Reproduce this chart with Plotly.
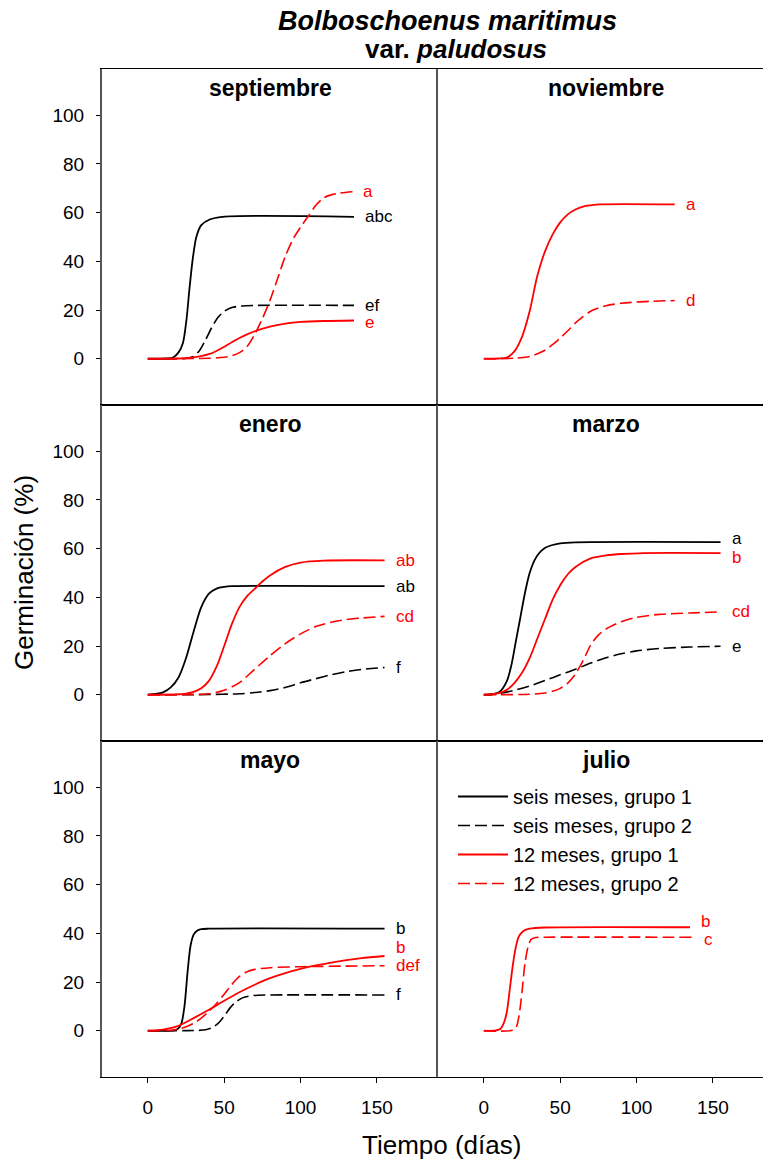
import plotly.graph_objects as go
from plotly.subplots import make_subplots

# ---------------- data ----------------
series_names = ["seis meses, grupo 1", "seis meses, grupo 2",
                "12 meses, grupo 1", "12 meses, grupo 2"]
panel_titles = ["septiembre", "noviembre", "enero", "marzo", "mayo", "julio"]
x_ticks = [0, 50, 100, 150]
y_ticks = [0, 20, 40, 60, 80, 100]

# septiembre
sep_s1_t = [0, 12, 16.5, 20, 23, 25.3, 27.4, 29.6, 31.8, 35, 40.5, 49, 135]
sep_s1_y = [0, 0.1, 0.5, 2.5, 6.5, 16, 29.6, 41.9, 50.1, 54.9, 57.2, 58.3, 58.3]
sep_s2_t = [0, 25, 30, 34, 38, 42, 46, 50, 55, 60, 70, 135]
sep_s2_y = [0, 0.2, 1, 3.5, 8, 13, 17, 19.5, 21, 21.6, 21.9, 21.9]
sep_d1_t = [0, 20, 30, 40, 45, 50, 55, 60, 65, 70, 80, 90, 100, 115, 135]
sep_d1_y = [0, 0.1, 0.6, 1.9, 3.2, 4.9, 6.8, 8.5, 10, 11.3, 13.2, 14.4, 15.1, 15.5, 15.7]
sep_d2_t = [0, 40, 50, 55, 60, 65, 70, 75, 80, 85, 90, 95, 100, 105, 110, 115, 120, 125, 134]
sep_d2_y = [0, 0.2, 0.6, 1.2, 2.5, 5, 10, 16.5, 24, 33, 42, 49, 54, 58.5, 63, 66, 67.3, 68, 68.6]
sep_letters = ["abc", "ef", "e", "a"]

# noviembre (only 12 meses)
nov_d1_t = [0, 10, 15, 20, 25, 30, 35, 40, 45, 50, 55, 60, 65, 70, 76, 125]
nov_d1_y = [0, 0.1, 0.5, 3, 9, 19.5, 34, 44, 51, 56, 59.3, 61.3, 62.5, 63, 63.4, 63.4]
nov_d2_t = [0, 20, 30, 40, 45, 50, 55, 60, 65, 70, 75, 80, 90, 100, 110, 125]
nov_d2_y = [0, 0.2, 0.9, 3.5, 5.8, 8.5, 11.5, 14.7, 17.3, 19.5, 20.8, 21.8, 22.8, 23.3, 23.6, 23.9]
nov_letters = [None, None, "a", "d"]

# enero
ene_s1_t = [0, 5, 10, 15, 20, 25, 30, 35, 40, 45, 50, 55, 155]
ene_s1_y = [0, 0.3, 1, 3, 7, 15, 26, 36, 41.5, 43.6, 44.3, 44.6, 44.6]
ene_s2_t = [0, 40, 60, 70, 80, 90, 100, 110, 120, 130, 140, 155]
ene_s2_y = [0, 0.1, 0.4, 0.9, 1.7, 3, 4.9, 6.6, 8.2, 9.5, 10.4, 11.2]
ene_d1_t = [0, 20, 25, 30, 35, 40, 45, 50, 55, 60, 65, 70, 75, 80, 90, 100, 115, 155]
ene_d1_y = [0, 0.2, 0.5, 1.2, 2.7, 5.7, 11.5, 20, 29, 36, 40.5, 43.5, 46.5, 49, 52.5, 54.3, 55.1, 55.2]
ene_d2_t = [0, 30, 40, 50, 60, 70, 80, 90, 100, 110, 120, 130, 140, 155]
ene_d2_y = [0, 0.1, 0.4, 1.8, 5, 10.5, 16, 21, 25, 28, 29.8, 30.9, 31.5, 32.2]
ene_letters = ["ab", "f", "ab", "cd"]

# marzo
mar_s1_t = [0, 5, 10, 15, 18, 21, 24, 27, 30, 33, 36, 40, 45, 50, 60, 155]
mar_s1_y = [0, 0.1, 1, 5.5, 12, 22, 32, 42, 50, 55, 58, 60.3, 61.5, 62.2, 62.6, 62.7]
mar_s2_t = [0, 10, 20, 30, 40, 50, 60, 70, 80, 90, 100, 115, 135, 155]
mar_s2_y = [0, 0.5, 1.8, 3.6, 5.8, 8.2, 10.5, 13, 15.2, 16.8, 18, 19, 19.6, 19.9]
mar_d1_t = [0, 5, 10, 15, 20, 25, 30, 35, 40, 45, 50, 55, 60, 70, 80, 90, 105, 155]
mar_d1_y = [0, 0.2, 0.7, 2, 4.8, 9, 15, 23, 31, 39, 45, 49.5, 52.5, 56, 57.2, 57.8, 58.2, 58.2]
mar_d2_t = [0, 30, 40, 45, 50, 55, 60, 65, 70, 75, 80, 90, 100, 115, 135, 155]
mar_d2_y = [0, 0.2, 0.7, 1.4, 2.6, 4.8, 8.5, 14, 20.5, 24.5, 27, 30, 31.8, 33, 33.6, 34]
mar_letters = ["a", "e", "b", "cd"]

# mayo
may_s1_t = [0, 18, 20, 22, 24, 26, 28, 30, 32, 35, 40, 155]
may_s1_y = [0, 0.2, 1, 3, 10, 24, 35, 39.5, 41, 41.7, 41.9, 41.9]
may_s2_t = [0, 30, 38, 42, 46, 50, 54, 58, 62, 66, 72, 80, 155]
may_s2_y = [0, 0.1, 0.4, 1.2, 3, 6, 9.5, 12, 13.5, 14.2, 14.6, 14.7, 14.7]
may_d1_t = [0, 10, 20, 30, 40, 50, 60, 70, 80, 90, 100, 110, 120, 130, 140, 155]
may_d1_y = [0, 0.5, 2, 5.2, 8.6, 12.3, 15.8, 18.9, 21.6, 23.7, 25.4, 26.8, 28, 29, 29.8, 30.7]
may_d2_t = [0, 15, 20, 25, 30, 35, 40, 45, 50, 55, 60, 65, 70, 80, 100, 155]
may_d2_y = [0, 0.2, 0.7, 1.6, 3, 5.2, 8, 11.2, 15, 19, 22.3, 24.2, 25.2, 25.9, 26.3, 26.7]
may_letters = ["b", "f", "b", "def"]

# julio (only 12 meses)
jul_d1_t = [0, 8, 11, 13, 15, 17, 19, 21, 23, 26, 30, 40, 135]
jul_d1_y = [0, 0.1, 0.8, 3, 7.5, 17, 27, 34.5, 38.8, 41, 41.9, 42.4, 42.5]
jul_d2_t = [0, 18, 21, 23, 25, 27, 29, 31, 34, 40, 137]
jul_d2_y = [0, 0.1, 1.2, 6, 16, 28, 34.5, 37.5, 38.3, 38.4, 38.4]
jul_letters = [None, None, "b", "c"]

curves = [
    [(sep_s1_t, sep_s1_y), (sep_s2_t, sep_s2_y), (sep_d1_t, sep_d1_y), (sep_d2_t, sep_d2_y)],
    [None, None, (nov_d1_t, nov_d1_y), (nov_d2_t, nov_d2_y)],
    [(ene_s1_t, ene_s1_y), (ene_s2_t, ene_s2_y), (ene_d1_t, ene_d1_y), (ene_d2_t, ene_d2_y)],
    [(mar_s1_t, mar_s1_y), (mar_s2_t, mar_s2_y), (mar_d1_t, mar_d1_y), (mar_d2_t, mar_d2_y)],
    [(may_s1_t, may_s1_y), (may_s2_t, may_s2_y), (may_d1_t, may_d1_y), (may_d2_t, may_d2_y)],
    [None, None, (jul_d1_t, jul_d1_y), (jul_d2_t, jul_d2_y)],
]
letters = [sep_letters, nov_letters, ene_letters, mar_letters, may_letters, jul_letters]

# ---------------- styling ----------------
FONT = "Liberation Sans, Arial, Helvetica, sans-serif"
colors = ["black", "black", "red", "red"]
dashes = ["solid", "12px,5px", "solid", "12px,5px"]
widths = [1.8, 1.6, 1.8, 1.6]
label_nudge = {(0, 2): -2, (3, 0): 4, (3, 2): -4, (4, 2): 8, (5, 2): 6, (5, 3): -2}

W, H = 763, 1160
ML, MT, MB = 102, 69, 83
panel_px = 336
plot_w = W - ML
x_range_left = [-30, 190]
px_per_unit = panel_px / (x_range_left[1] - x_range_left[0])
x_range_right = [-30, -30 + (plot_w - panel_px) / px_per_unit]
y_range = [-19, 119]

fig = make_subplots(rows=3, cols=2, horizontal_spacing=0, vertical_spacing=0,
                    column_widths=[panel_px, plot_w - panel_px])

shown = set()
annotations = []
for i, title in enumerate(panel_titles):
    row, col = i // 2 + 1, i % 2 + 1
    n = i + 1
    xr = f"x{n}" if n > 1 else "x"
    yr = f"y{n}" if n > 1 else "y"
    for k in range(4):
        c = curves[i][k]
        if c is None:
            continue
        t, v = c
        fig.add_trace(go.Scatter(
            x=t, y=v, mode="lines", name=series_names[k],
            legendgroup=series_names[k], legendrank=k + 1,
            showlegend=k not in shown,
            line=dict(color=colors[k], dash=dashes[k], width=widths[k],
                      shape="spline", smoothing=0.8),
            hoverinfo="skip"), row=row, col=col)
        shown.add(k)
        lab = letters[i][k]
        if lab:
            annotations.append(dict(
                x=t[-1], y=v[-1], xref=xr, yref=yr, text=lab, showarrow=False,
                xanchor="left", yanchor="middle", xshift=9,
                yshift=label_nudge.get((i, k), 0),
                font=dict(family=FONT, size=17, color=colors[k])))
    annotations.append(dict(
        x=80, y=111, xref=xr, yref=yr, text=f"<b>{title}</b>", showarrow=False,
        xanchor="center", yanchor="middle",
        font=dict(family=FONT, size=23, color="black")))

    fig.update_xaxes(row=row, col=col,
                     range=x_range_left if col == 1 else x_range_right,
                     showgrid=False, zeroline=False, showline=True, mirror=True,
                     linecolor="black", linewidth=1,
                     tickvals=x_ticks, ticks="outside" if row == 3 else "",
                     ticklen=5, tickcolor="black",
                     showticklabels=(row == 3), ticklabelstandoff=8,
                     tickfont=dict(family=FONT, size=19, color="black"))
    fig.update_yaxes(row=row, col=col, range=y_range,
                     showgrid=False, zeroline=False, showline=True, mirror=False,
                     linecolor="#555555", linewidth=2,
                     tickvals=y_ticks, ticks="outside" if col == 1 else "",
                     ticklen=4, tickcolor="black",
                     showticklabels=(col == 1), ticklabelstandoff=8,
                     tickfont=dict(family=FONT, size=19, color="black"))

def px_x(px):
    return (px - ML) / plot_w

def px_y(py):
    return (H - MB - py) / (H - MT - MB)

annotations += [
    dict(x=px_x(447), y=px_y(21), xref="paper", yref="paper", showarrow=False,
         text="<b><i>Bolboschoenus maritimus</i></b>", xanchor="center", yanchor="middle",
         font=dict(family=FONT, size=27, color="black")),
    dict(x=px_x(456), y=px_y(49), xref="paper", yref="paper", showarrow=False,
         text="<b>var. <i>paludosus</i></b>", xanchor="center", yanchor="middle",
         font=dict(family=FONT, size=26, color="black")),
    dict(x=px_x(24), y=px_y(573), xref="paper", yref="paper", showarrow=False,
         text="Germinación (%)", textangle=-90, xanchor="center", yanchor="middle",
         font=dict(family=FONT, size=26, color="black")),
    dict(x=px_x(441), y=px_y(1145), xref="paper", yref="paper", showarrow=False,
         text="Tiempo (días)", xanchor="center", yanchor="middle",
         font=dict(family=FONT, size=26, color="black")),
]

fig.update_layout(
    width=W, height=H, autosize=False,
    margin=dict(l=ML, r=0, t=MT, b=MB, pad=0),
    plot_bgcolor="white", paper_bgcolor="white",
    font=dict(family=FONT, color="black"),
    annotations=annotations,
    showlegend=True,
    legend=dict(x=px_x(453), y=px_y(777), xanchor="left", yanchor="top",
                bgcolor="rgba(0,0,0,0)", borderwidth=0,
                font=dict(family=FONT, size=20, color="black"),
                itemwidth=50, tracegroupgap=0, traceorder="normal"),
)

fig.write_html("out.html")
